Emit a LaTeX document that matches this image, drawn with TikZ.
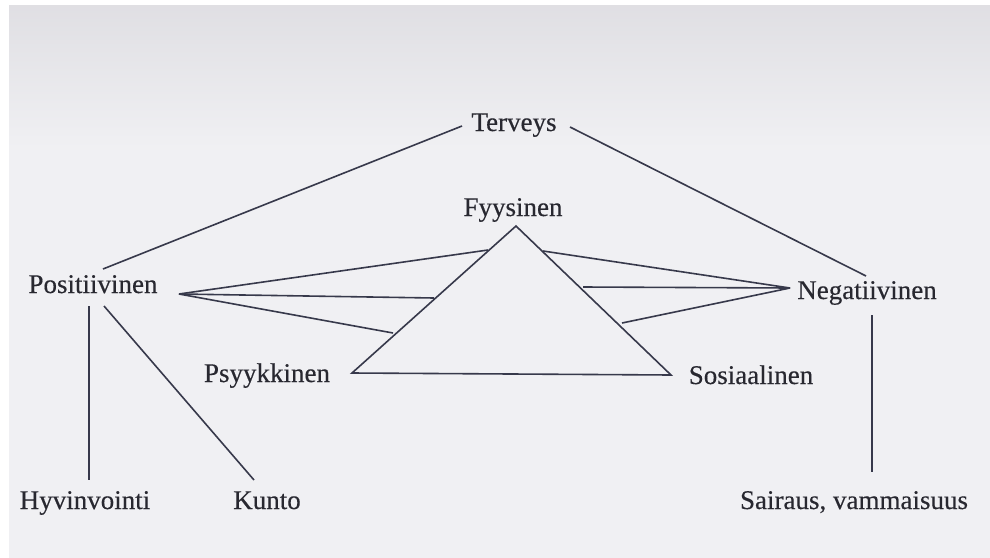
\documentclass[tikz,border=0pt]{standalone}
\usepackage{fontspec}
\setmainfont{Liberation Serif}
\newfontfamily\inkfont[FakeBold=0.35]{Liberation Serif}
\definecolor{bgtop}{RGB}{192,190,197}
\definecolor{bgmid}{RGB}{240,240,243}
\definecolor{bgbot}{RGB}{208,206,211}
\definecolor{inkline}{RGB}{55,57,75}
\definecolor{inktext}{RGB}{40,40,48}
\pgfdeclareverticalshading{photobg}{100bp}{color(0bp)=(bgbot); color(22bp)=(bgmid); color(62bp)=(bgmid); color(100bp)=(bgtop)}
\begin{document}
\begin{tikzpicture}[x=1pt,y=-1pt,
  lbl/.style={anchor=base,inner sep=0pt,text=inktext,font=\inkfont\fontsize{27}{32}\selectfont},
  conn/.style={draw=inkline,line width=1.6pt}]
\useasboundingbox (0,0) rectangle (990,557);
\fill[white] (0,0) rectangle (990,557);
\shade[shading=photobg] (9,5) rectangle (990,557);

% labels
\node[lbl] (terveys) at (514,131) {Terveys};
\node[lbl] (fyysinen) at (513,216) {Fyysinen};
\node[lbl] (psyyk) at (267,382) {Psyykkinen};
\node[lbl] (sosiaal) at (751,384) {Sosiaalinen};
\node[lbl] (posit) at (93,293) {Positiivinen};
\node[lbl] (negat) at (867,299) {Negatiivinen};
\node[lbl] (hyvin) at (85,509) {Hyvinvointi};
\node[lbl] (kunto) at (267,509) {Kunto};
\node[lbl] (sairaus) at (854,509) {Sairaus, vammaisuus};

% connector end points
\coordinate (tL) at (462,126);
\coordinate (tR) at (570,127);
\coordinate (pTop) at (103,269);
\coordinate (nTop) at (866,276);
\coordinate (pFan) at (179,294);
\coordinate (nFan) at (790,288);
\coordinate (apex) at (516,226);
\coordinate (bl) at (352,373);
\coordinate (br) at (671,375);
\coordinate (pe1) at (488,250);
\coordinate (pe2) at (434,298);
\coordinate (pe3) at (393,333);
\coordinate (ne1) at (543,251);
\coordinate (ne2) at (583,287);
\coordinate (ne3) at (622,323);
\coordinate (pDownA) at (89,306);
\coordinate (pDownB) at (89,480);
\coordinate (kA) at (104,306);
\coordinate (kB) at (254,480);
\coordinate (nDownA) at (872,315);
\coordinate (nDownB) at (872,472);

% connectors
\draw[conn] (tL) -- (pTop);
\draw[conn] (tR) -- (nTop);
\draw[conn,line join=miter] (apex) -- (bl) -- (br) -- cycle;
\draw[conn] (pFan) -- (pe1);
\draw[conn] (pFan) -- (pe2);
\draw[conn] (pFan) -- (pe3);
\draw[conn] (nFan) -- (ne1);
\draw[conn] (nFan) -- (ne2);
\draw[conn] (nFan) -- (ne3);
\draw[conn] (pDownA) -- (pDownB);
\draw[conn] (kA) -- (kB);
\draw[conn] (nDownA) -- (nDownB);
\end{tikzpicture}
\end{document}
